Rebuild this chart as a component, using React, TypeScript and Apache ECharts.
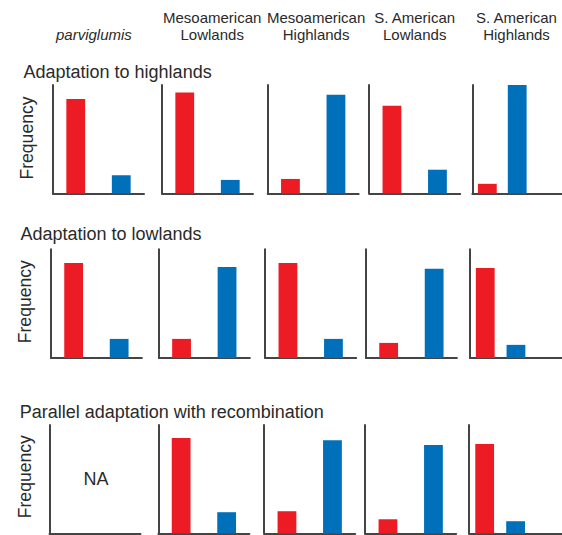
import React, { useEffect, useRef } from "react";
import * as echarts from "echarts";

// ---- data ----
const populations = [
  "parviglumis",
  "Mesoamerican\nLowlands",
  "Mesoamerican\nHighlands",
  "S. American\nLowlands",
  "S. American\nHighlands",
];
const scenarios = [
  "Adaptation to highlands",
  "Adaptation to lowlands",
  "Parallel adaptation with recombination",
];
const alleles = ["Highland allele", "Lowland allele"];
const highlandsRed = [0.87, 0.93, 0.135, 0.81, 0.09];
const highlandsBlue = [0.17, 0.126, 0.91, 0.22, 1.0];
const lowlandsRed = [0.874, 0.175, 0.874, 0.138, 0.828];
const lowlandsBlue = [0.175, 0.837, 0.175, 0.82, 0.12];
const parallelRed = [null, 0.88, 0.206, 0.132, 0.825];
const parallelBlue = [null, 0.197, 0.86, 0.815, 0.114];
const yLabel = "Frequency";
const naLabel = "NA";

const redRows = [highlandsRed, lowlandsRed, parallelRed];
const blueRows = [highlandsBlue, lowlandsBlue, parallelBlue];

// ---- layout ----
const RED = "#ED1C24";
const BLUE = "#0070BB";
const AXIS = "#444444";
const TEXT = "#2a2a2a";
const FONT = "'Liberation Sans', Arial, Helvetica, sans-serif";
const panelLefts = [
  [53.0, 162.0, 267.7, 369.2, 472.4],
  [50.9, 158.8, 265.2, 365.9, 469.9],
  [49.5, 158.4, 264.2, 365.2, 469.2],
];
const rowTops = [85, 249.3, 425];
const panelH = 108.6;
const panelW = 91;
const headerX = [93.9, 212.2, 316.1, 414.7, 516.5];
const rowTitlePos = [
  [23.5, 72],
  [20.4, 233.5],
  [19.7, 411.7],
];
const freqPos = [
  [26.9, 138],
  [25.1, 301.7],
  [25.1, 476.7],
];

export default function App() {
  const ref = useRef<HTMLDivElement>(null);
  useEffect(() => {
    if (!ref.current) return;
    const chart = echarts.init(ref.current, null, { renderer: "svg" });
    const grid: any[] = [];
    const xAxis: any[] = [];
    const yAxis: any[] = [];
    const series: any[] = [];
    let idx = 0;
    for (let r = 0; r < 3; r++) {
      for (let c = 0; c < 5; c++) {
        const last = c === 4;
        grid.push({
          left: panelLefts[r][c],
          top: rowTops[r],
          width: last ? panelW * 1.5 : panelW,
          height: panelH,
        });
        xAxis.push({
          type: "category",
          gridIndex: idx,
          data: last ? [...alleles, ""] : alleles,
          axisLine: { show: true, lineStyle: { color: AXIS, width: 2 } },
          axisTick: { show: false },
          axisLabel: { show: false },
          splitLine: { show: false },
        });
        yAxis.push({
          type: "value",
          gridIndex: idx,
          min: 0,
          max: 1,
          axisLine: { show: true, lineStyle: { color: AXIS, width: 2 } },
          axisTick: { show: false },
          axisLabel: { show: false },
          splitLine: { show: false },
        });
        const rv = redRows[r][c];
        const bv = blueRows[r][c];
        const data: any[] = [];
        if (rv !== null && bv !== null) {
          data.push({ value: rv, itemStyle: { color: RED } });
          data.push({ value: bv, itemStyle: { color: BLUE } });
        }
        series.push({
          type: "bar",
          xAxisIndex: idx,
          yAxisIndex: idx,
          barWidth: 18.8,
          data,
        });
        idx++;
      }
    }

    const graphic: any[] = [];
    populations.forEach((p, i) => {
      const italic = i === 0;
      graphic.push({
        type: "text",
        x: headerX[i],
        y: italic ? 34.3 : 26.05,
        style: {
          text: p,
          fill: TEXT,
          font: `${italic ? "italic " : ""}15px ${FONT}`,
          textAlign: "center",
          textVerticalAlign: "middle",
          lineHeight: 16.5,
        },
      });
    });
    scenarios.forEach((s, i) => {
      graphic.push({
        type: "text",
        x: rowTitlePos[i][0],
        y: rowTitlePos[i][1],
        style: {
          text: s,
          fill: TEXT,
          font: `18px ${FONT}`,
          textAlign: "left",
          textVerticalAlign: "middle",
        },
      });
      graphic.push({
        type: "text",
        x: freqPos[i][0],
        y: freqPos[i][1],
        rotation: Math.PI / 2,
        style: {
          text: yLabel,
          fill: TEXT,
          font: `17.6px ${FONT}`,
          textAlign: "center",
          textVerticalAlign: "middle",
        },
      });
    });
    graphic.push({
      type: "text",
      x: 96,
      y: 479.3,
      style: {
        text: naLabel,
        fill: TEXT,
        font: `18px ${FONT}`,
        textAlign: "center",
        textVerticalAlign: "middle",
      },
    });

    chart.setOption({
      animation: false,
      backgroundColor: "#ffffff",
      grid,
      xAxis,
      yAxis,
      series,
      graphic,
    });
    return () => chart.dispose();
  }, []);
  return (
    <div
      ref={ref}
      style={{ position: "absolute", left: 0, top: 0, width: 562, height: 535 }}
    />
  );
}
